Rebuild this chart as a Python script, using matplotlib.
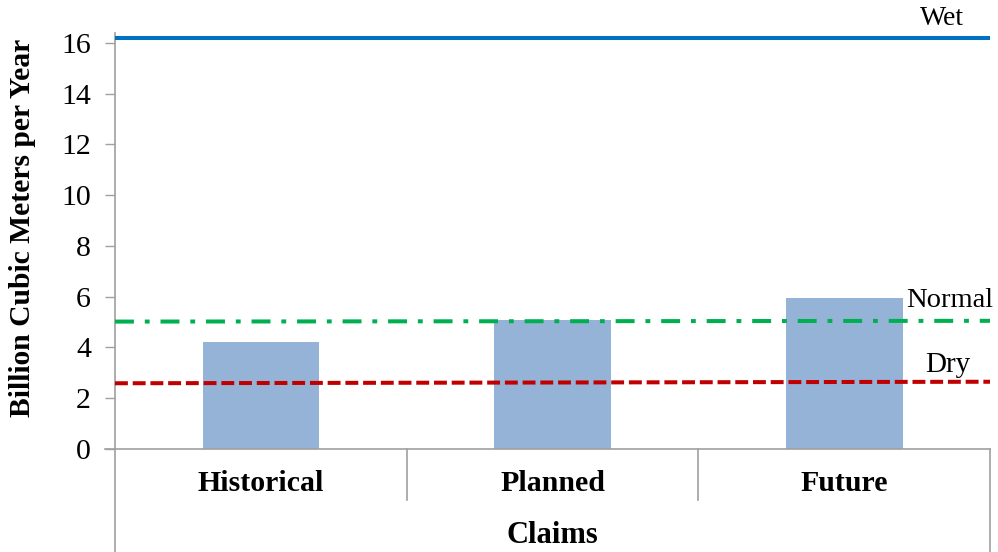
import matplotlib.pyplot as plt

plt.rcParams['font.family'] = ['Liberation Serif', 'DejaVu Serif']

categories = ['Historical', 'Planned', 'Future']
claims = [4.2, 5.1, 5.95]
wet = [16.2, 16.2]
normal = [5.02, 5.05]
dry = [2.59, 2.65]
yticks = [0, 2, 4, 6, 8, 10, 12, 14, 16]

fig = plt.figure(figsize=(9.98, 5.52), dpi=100)
ax = fig.add_axes([115 / 998, 1 - 449 / 552, 875 / 998, 416 / 552])

x = list(range(len(categories)))
ax.bar(x, claims, width=0.4, color='#95B3D7', zorder=2)

# scenario lines span the whole plot width
edges = [-0.5, len(categories) - 0.5]
ax.plot(edges, wet, color='#0070C0', lw=2.9, solid_capstyle='butt', zorder=3)
ax.plot(edges, normal, color='#00B050', lw=2.9, dashes=(4.7, 2.7, 1.2, 2.7), zorder=3)
ax.plot(edges, dry, color='#C00000', lw=2.9, dashes=(3.2, 1.2), zorder=3)

ax.text(2.335, 16.95, 'Wet', fontsize=20, ha='center', va='center', clip_on=False)
ax.text(2.363, 5.87, 'Normal', fontsize=20.5, ha='center', va='center')
ax.text(2.356, 3.31, 'Dry', fontsize=21, ha='center', va='center')

ax.set_xlim(edges)
ax.set_ylim(0, 16.39)
ax.set_yticks(yticks)
ax.set_xticks([])
ax.tick_params(axis='y', length=7.2, width=1, color='#A0A0A0', pad=10, labelsize=21.5)

for s in ['top', 'right']:
    ax.spines[s].set_visible(False)
for s in ['left', 'bottom']:
    ax.spines[s].set_color('#A0A0A0')
    ax.spines[s].set_linewidth(1.2)

# multi-level category axis, drawn below the plot
tr = ax.get_xaxis_transform()
ax.plot([-0.5 - 10 / 291.67, -0.5], [0, 0], color='#A0A0A0', lw=1.2, transform=tr, clip_on=False)
ax.plot([-0.5, -0.5], [0, -0.27], color='#A0A0A0', lw=1.2, transform=tr, clip_on=False)
ax.plot([2.5, 2.5], [0, -0.27], color='#A0A0A0', lw=1.2, transform=tr, clip_on=False)
for b in [0.5, 1.5]:
    ax.plot([b, b], [0, -0.1226], color='#A0A0A0', lw=1.2, transform=tr, clip_on=False)
for xi, name in zip(x, categories):
    ax.text(xi, -0.082, name, fontsize=21.5, fontweight='bold', ha='center', va='center', transform=tr)
ax.text(1, -0.207, 'Claims', fontsize=22, fontweight='bold', ha='center', va='center', transform=tr)

fig.text(23 / 998, 1 - 228 / 552, 'Billion Cubic Meters per Year', fontsize=21.3,
         fontweight='bold', rotation=90, ha='center', va='center')

fig.savefig('out.png', dpi=100)
